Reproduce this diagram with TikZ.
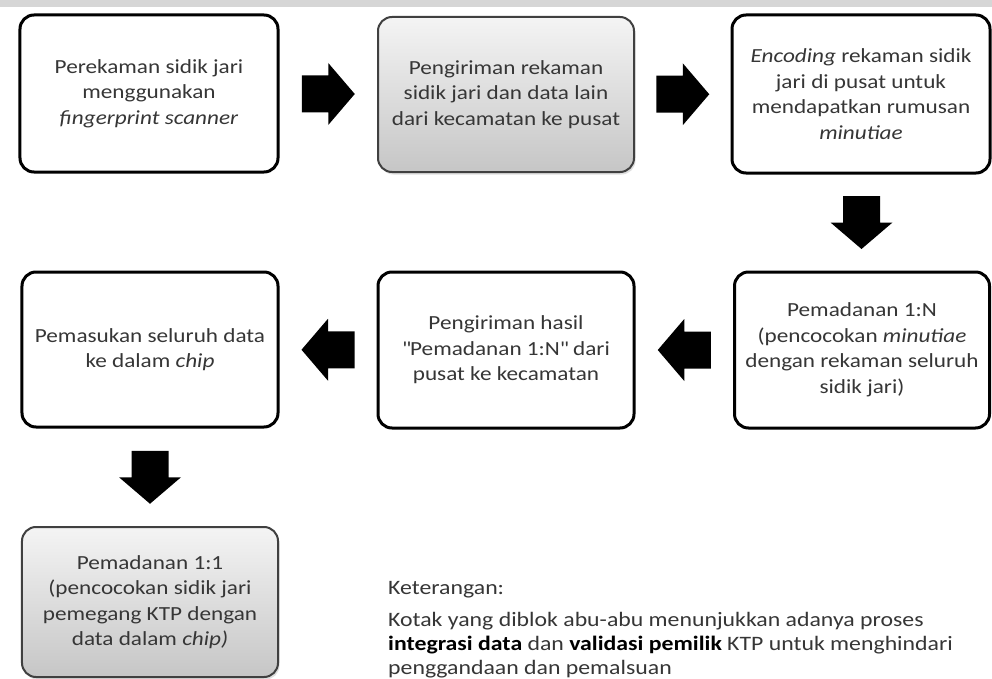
\documentclass[tikz,border=0pt]{standalone}
\usepackage{fontspec}
\setmainfont{Carlito}[FakeStretch=1.16]
\usetikzlibrary{calc,shadows}
\definecolor{txt}{HTML}{363636}
\definecolor{strip}{HTML}{D6D6D6}
\definecolor{gtop}{HTML}{F4F4F4}
\definecolor{gbot}{HTML}{C6C6C6}
\begin{document}
\begin{tikzpicture}[x=1bp,y=-1bp,
  box/.style={draw=black, line width=3bp, rounded corners=14bp, fill=white,
    align=center, text=txt, inner sep=0pt,
    font=\fontsize{20bp}{25.5bp}\selectfont},
  gbox/.style={box, draw=black!75, line width=2bp, top color=gtop, bottom color=gbot,
    drop shadow={opacity=0.25, shadow xshift=1.5bp, shadow yshift=-2.5bp}},
  legend/.style={anchor=west, align=left, text=txt, inner sep=0pt,
    font=\fontsize{20.5bp}{24bp}\selectfont},
  barrow/.pic={\fill[black] (-26.5,-18.5) -- (0,-18.5) -- (0,-31) -- (26.5,0)
    -- (0,31) -- (0,18.5) -- (-26.5,18.5) -- cycle;}
]
\useasboundingbox (0,0) rectangle (992,679);
\fill[white] (0,0) rectangle (992,679);
\fill[strip] (0,0) rectangle (992,7);

\node[box, minimum width=258bp, minimum height=157bp] (b1) at (149,93.5)
  {Perekaman sidik jari\\ menggunakan\\ \textit{fingerprint scanner}};
\node[gbox, minimum width=256bp, minimum height=155bp] (b2) at (506,94.5)
  {Pengiriman rekaman\\ sidik jari dan data lain\\ dari kecamatan ke pusat};
\node[box, minimum width=258bp, minimum height=158bp] (b3) at (861,94)
  {\textit{Encoding} rekaman sidik\\ jari di pusat untuk\\ mendapatkan rumusan\\ \textit{minutiae}};
\node[box, minimum width=256bp, minimum height=155bp] (b4) at (150,349.5)
  {Pemasukan seluruh data\\ ke dalam \textit{chip}};
\node[box, minimum width=256bp, minimum height=156bp] (b5) at (506,350)
  {Pengiriman hasil\\ \textquotedbl Pemadanan 1:N\textquotedbl{} dari\\ pusat ke kecamatan};
\node[box, minimum width=255bp, minimum height=156bp] (b6) at (862,350)
  {Pemadanan 1:N\\ (pencocokan \textit{minutiae}\\ dengan rekaman seluruh\\ sidik jari)};
\node[gbox, minimum width=256bp, minimum height=150bp] (b7) at (150,602)
  {Pemadanan 1:1\\ (pencocokan sidik jari\\ pemegang KTP dengan\\ data dalam \textit{chip)}};

\pic at ($(b1.east)!0.5!(b2.west)$) {barrow};
\pic at ($(b2.east)!0.5!(b3.west)$) {barrow};
\pic[rotate=-90] at ($(b3.south)!0.5!(b6.north)$) {barrow};
\pic[rotate=180] at ($(b6.west)!0.5!(b5.east)$) {barrow};
\pic[rotate=180] at ($(b5.west)!0.5!(b4.east)$) {barrow};
\pic[rotate=-90] at ($(b4.south)!0.5!(b7.north)$) {barrow};

\node[legend] (k1) at (388,590) {Keterangan:};
\node[legend] (k2) at (388,645.5)
  {Kotak yang diblok abu-abu menunjukkan adanya proses\\
   \textbf{\color{black}integrasi data} dan \textbf{\color{black}validasi pemilik} KTP untuk menghindari\\
   penggandaan dan pemalsuan};
\end{tikzpicture}
\end{document}
